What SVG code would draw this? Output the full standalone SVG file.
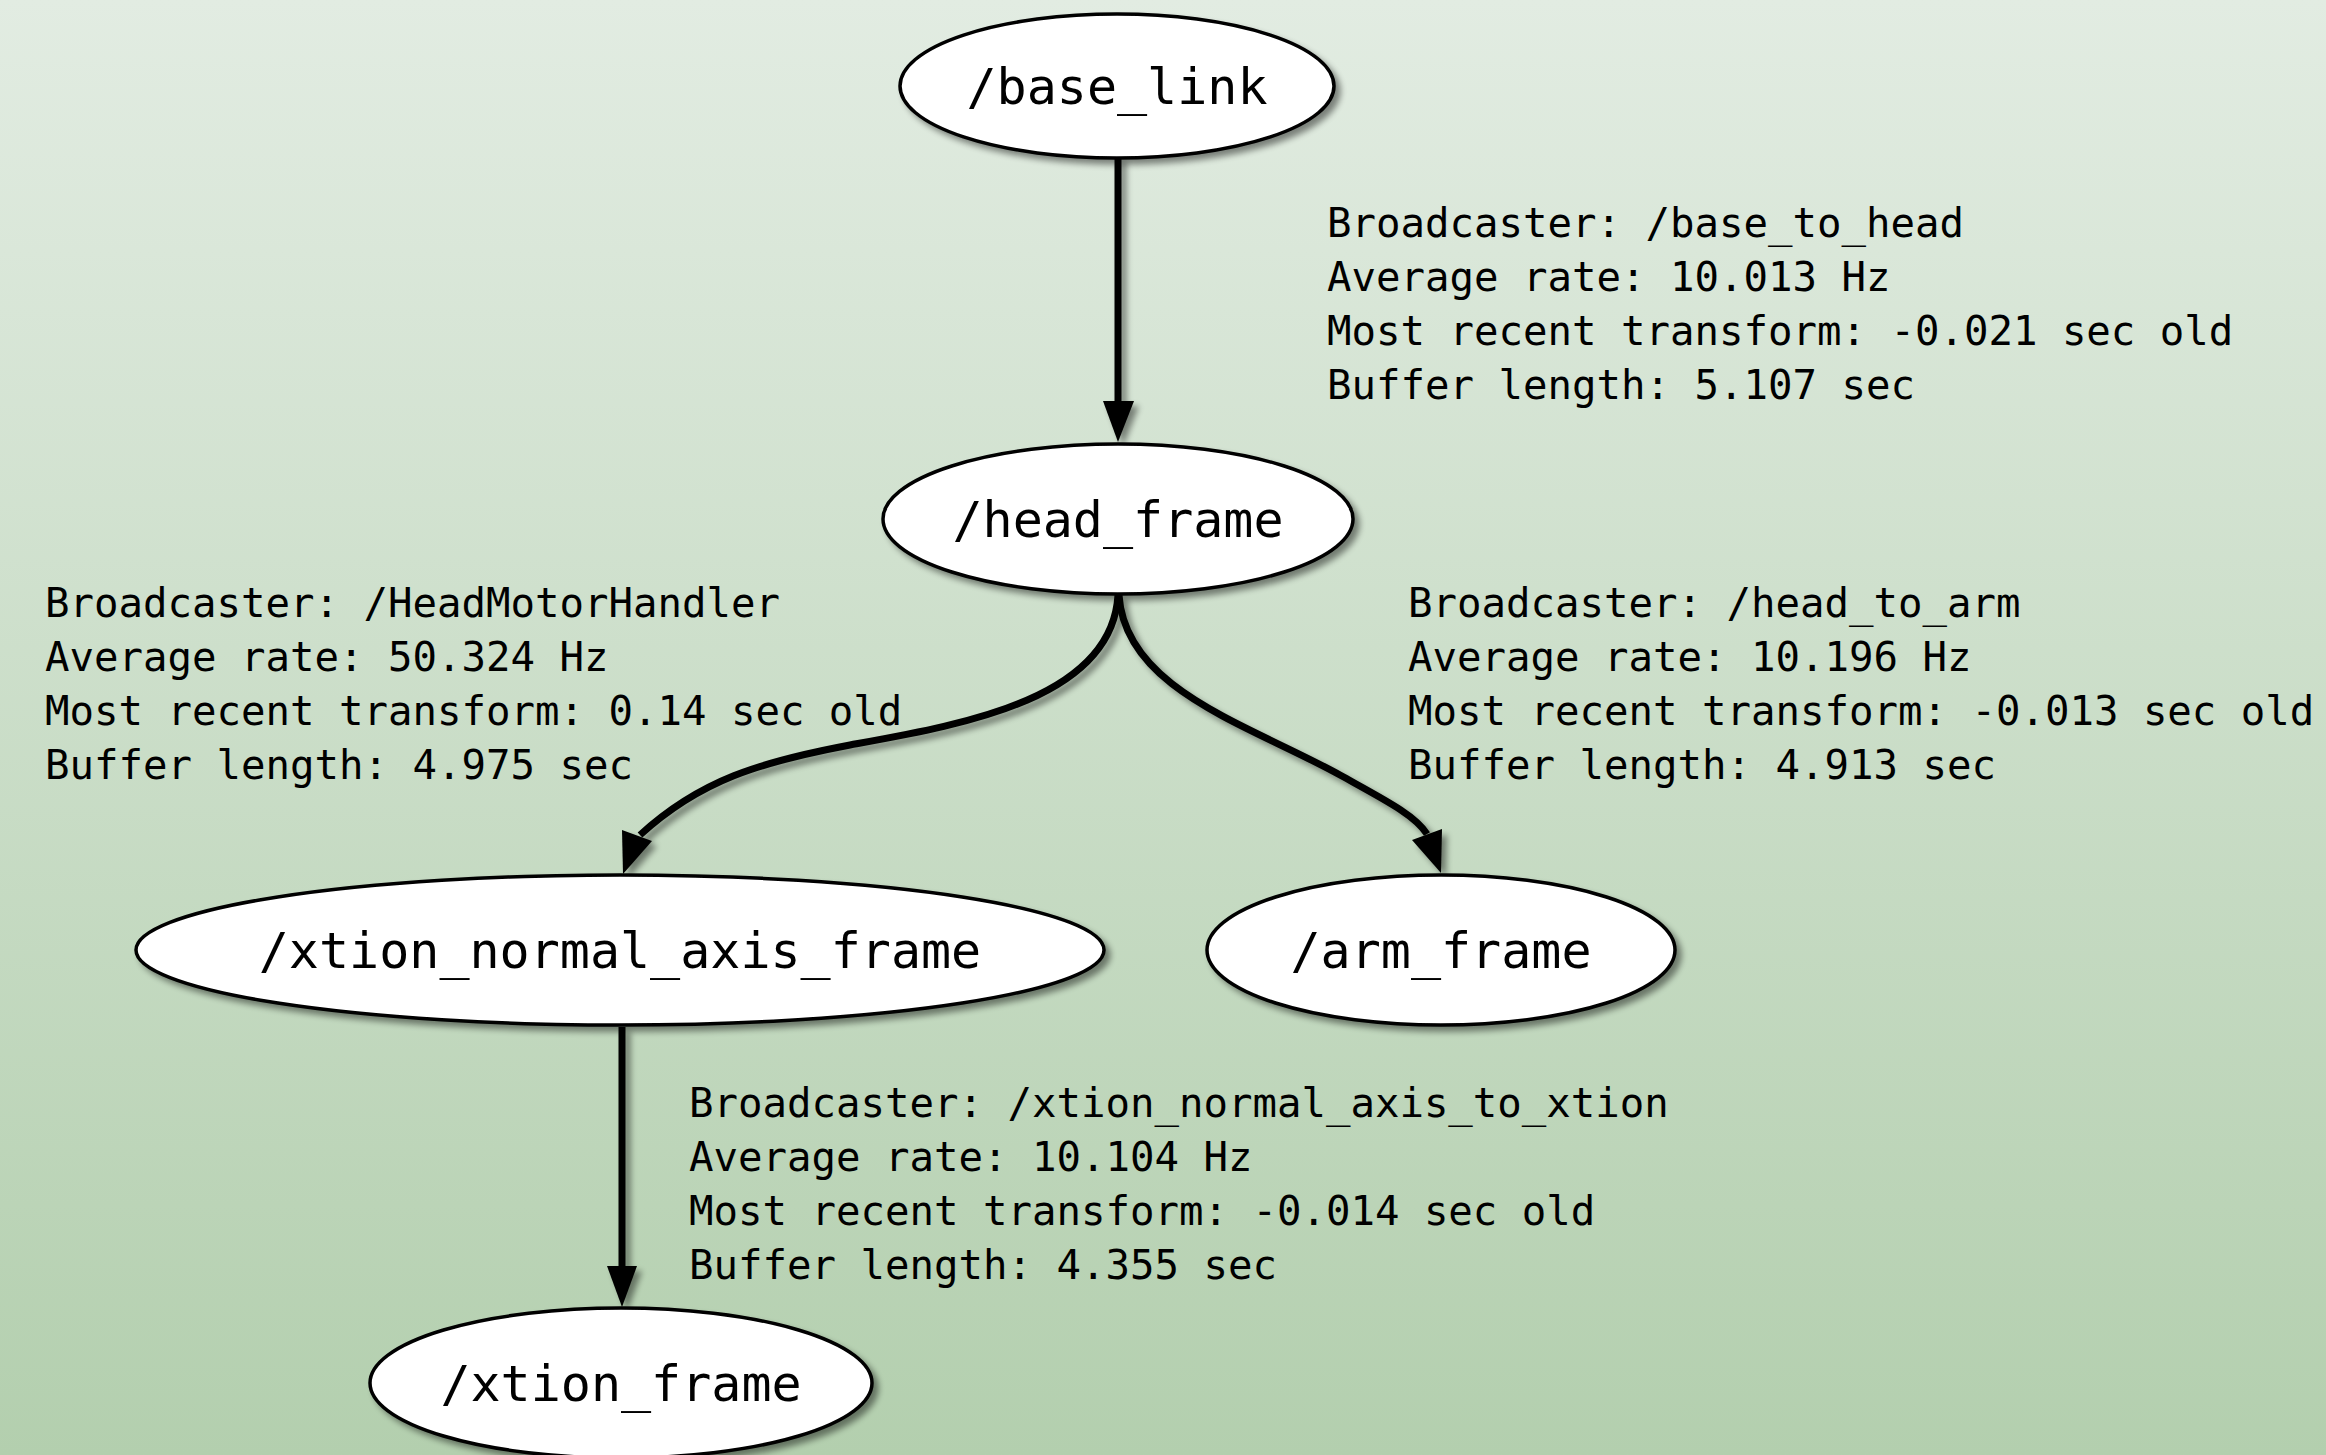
<svg xmlns="http://www.w3.org/2000/svg" width="2326" height="1455" viewBox="0 0 2326 1455">
<defs>
  <linearGradient id="bg" x1="0" y1="0" x2="0" y2="1">
    <stop offset="0" stop-color="#e2ece2"/>
    <stop offset="1" stop-color="#b3cfae"/>
  </linearGradient>
  <filter id="shadow" x="-10%" y="-20%" width="125%" height="150%">
    <feGaussianBlur in="SourceAlpha" stdDeviation="3"/>
    <feOffset dx="5" dy="5" result="b"/>
    <feComponentTransfer><feFuncA type="linear" slope="0.45"/></feComponentTransfer>
    <feMerge><feMergeNode/><feMergeNode in="SourceGraphic"/></feMerge>
  </filter>
  <style>
    .node ellipse { fill: #ffffff; stroke: #000000; stroke-width: 3.5; }
    .node text { font-family: "DejaVu Sans Mono", "Liberation Mono", monospace; font-size: 50px; text-anchor: middle; fill: #000; }
    .edge { fill: none; stroke: #000; stroke-width: 7; }
    .head { fill: #000; stroke: none; }
    .label { font-family: "DejaVu Sans Mono", "Liberation Mono", monospace; font-size: 40.7px; fill: #000; }
  </style>
</defs>
<rect x="0" y="0" width="2326" height="1455" fill="url(#bg)"/>

<g id="connectors" filter="url(#shadow)">
  <path class="edge" d="M1118,157 L1118,403"/>
  <polygon class="head" points="1103,401 1134,401 1118,442"/>
  <path class="edge" d="M1118,595 C1112,700 960,725 850,745 C760,762 700,780 640,835"/>
  <polygon class="head" points="622,830 652,841 623,874"/>
  <path class="edge" d="M1119,595 C1125,690 1250,725 1340,775 C1385,800 1415,815 1427,834"/>
  <polygon class="head" points="1442,829 1412,840 1441,873"/>
  <path class="edge" d="M622,1027 L622,1268"/>
  <polygon class="head" points="607,1266 637,1266 622,1307"/>
</g>

<g id="labels">
  <text class="label" x="1327" y="237">Broadcaster: /base_to_head</text>
  <text class="label" x="1327" y="291">Average rate: 10.013 Hz</text>
  <text class="label" x="1327" y="345">Most recent transform: -0.021 sec old</text>
  <text class="label" x="1327" y="399">Buffer length: 5.107 sec</text>

  <text class="label" x="45" y="617">Broadcaster: /HeadMotorHandler</text>
  <text class="label" x="45" y="671">Average rate: 50.324 Hz</text>
  <text class="label" x="45" y="725">Most recent transform: 0.14 sec old</text>
  <text class="label" x="45" y="779">Buffer length: 4.975 sec</text>

  <text class="label" x="1408" y="617">Broadcaster: /head_to_arm</text>
  <text class="label" x="1408" y="671">Average rate: 10.196 Hz</text>
  <text class="label" x="1408" y="725">Most recent transform: -0.013 sec old</text>
  <text class="label" x="1408" y="779">Buffer length: 4.913 sec</text>

  <text class="label" x="689" y="1117">Broadcaster: /xtion_normal_axis_to_xtion</text>
  <text class="label" x="689" y="1171">Average rate: 10.104 Hz</text>
  <text class="label" x="689" y="1225">Most recent transform: -0.014 sec old</text>
  <text class="label" x="689" y="1279">Buffer length: 4.355 sec</text>
</g>

<g id="base_link" class="node">
  <ellipse cx="1117" cy="86" rx="217" ry="72" filter="url(#shadow)"/>
  <text x="1117" y="104">/base_link</text>
</g>
<g id="head_frame" class="node">
  <ellipse cx="1118" cy="519" rx="235" ry="75" filter="url(#shadow)"/>
  <text x="1118" y="537">/head_frame</text>
</g>
<g id="xtion_normal_axis_frame" class="node">
  <ellipse cx="620" cy="950" rx="484" ry="75" filter="url(#shadow)"/>
  <text x="620" y="968">/xtion_normal_axis_frame</text>
</g>
<g id="arm_frame" class="node">
  <ellipse cx="1441" cy="950" rx="234" ry="75" filter="url(#shadow)"/>
  <text x="1441" y="968">/arm_frame</text>
</g>
<g id="xtion_frame" class="node">
  <ellipse cx="621" cy="1383" rx="251" ry="75" filter="url(#shadow)"/>
  <text x="621" y="1401">/xtion_frame</text>
</g>
</svg>
